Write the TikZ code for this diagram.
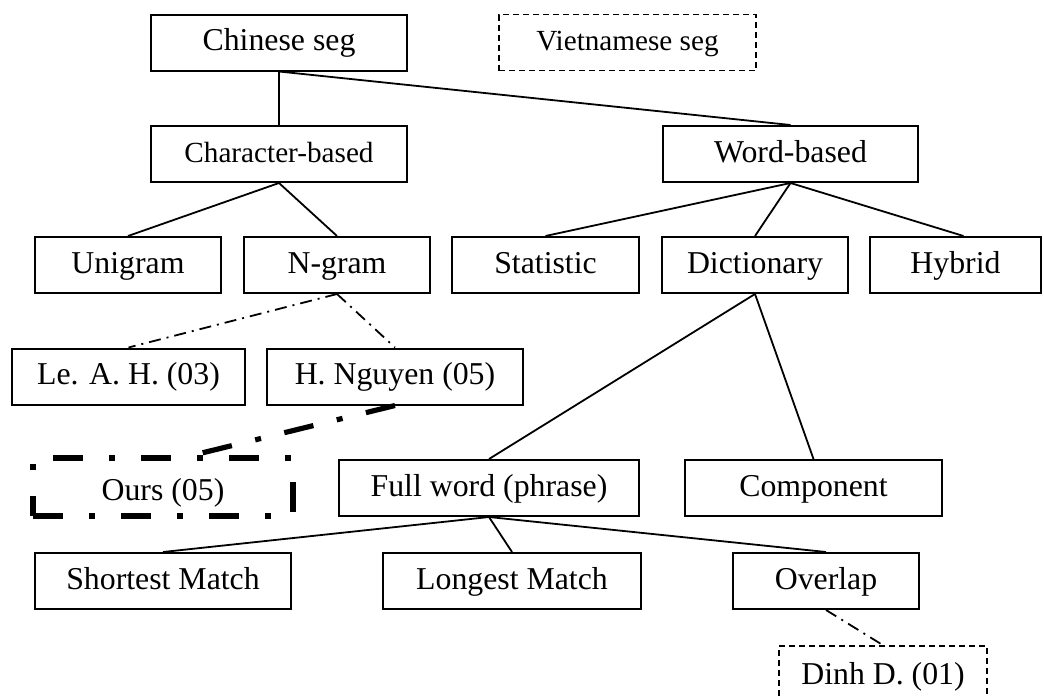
\documentclass[tikz,border=0pt]{standalone}
\usepackage{fontspec}
\setmainfont{Liberation Serif}
\usetikzlibrary{positioning}
\tikzset{
    method/.style={
        rectangle,
        draw,
        line width=1pt,
        inner sep=0pt,
        minimum height=28pt,
        text height=0.66em+1.5pt,
        text depth=0pt,
        text centered,
        font={\fontsize{15.9pt}{18}\selectfont}
    },
    smallmethod/.style={
        method,
        font={\fontsize{14.6pt}{17}\selectfont}
    },
    viet/.style={
        method,
        line width=0.8pt,
        dash pattern=on 3pt off 2pt
    },
    ours/.style={
        method,
        line width=2.6pt,
        dash pattern=on 15pt off 13pt on 3pt off 13pt
    },
}

\begin{document}
\begin{tikzpicture}[x=0.5pt,y=-0.5pt]
\tikzstyle{branch} = [draw, line width=0.9pt]
\tikzstyle{follow} = [draw, line width=0.9pt, dash pattern=on 6pt off 3pt on 1pt off 3pt]
\tikzstyle{extend} = [draw, line width=2.6pt, dash pattern=on 15pt off 12pt on 3pt off 12pt]
\clip (0,0) rectangle (1044,697);

% Roots
\node[method, minimum width=128pt] (chinese) at (279,42.5) {Chinese seg};
\node[viet, minimum width=128.5pt, font={\fontsize{14.6pt}{17}\selectfont}] (vietnamese) at (627.5,42.5) {Vietnamese seg};

% Approaches
\node[smallmethod, minimum width=128pt] (charbased) at (279,154) {Character-based};
\node[method, minimum width=127.5pt] (wordbased) at (790.5,154) {Word-based};

% Models
\node[method, minimum width=93pt] (unigram) at (128,265) {Unigram};
\node[method, minimum width=93pt] (ngram) at (337,265) {N-gram};
\node[method, minimum width=93.5pt] (statistic) at (545.5,265) {Statistic};
\node[method, minimum width=93pt] (dictionary) at (755,265) {Dictionary};
\node[method, minimum width=85.5pt] (hybrid) at (955.5,265) {Hybrid};

% Vietnamese works
\node[method, minimum width=116.5pt] (leah) at (128.5,376.5) {Le. A. H. (03)};
\node[method, minimum width=128pt] (hnguyen) at (395,376.5) {H. Nguyen (05)};
\node[ours, minimum width=130pt, minimum height=29pt] (ours) at (163,487) {\raisebox{-2.5pt}{Ours (05)}};

% Dictionary matching
\node[method, minimum width=150pt] (fullword) at (489,488) {Full word (phrase)};
\node[method, minimum width=128.5pt] (component) at (813.5,488) {Component};
\node[method, minimum width=128pt] (shortest) at (163,581) {Shortest Match};
\node[method, minimum width=129pt] (longest) at (512,581) {Longest Match};
\node[method, minimum width=93pt] (overlap) at (826,581) {Overlap};
\node[viet, minimum width=104pt, minimum height=30pt] (dinh) at (883,676) {Dinh D. (01)};

% Tree edges
\draw[branch] (chinese.south) -- (charbased.north);
\draw[branch] (chinese.south) -- (wordbased.north);
\draw[branch] (charbased.south) -- (unigram.north);
\draw[branch] (charbased.south) -- (ngram.north);
\draw[branch] (wordbased.south) -- (statistic.north);
\draw[branch] (wordbased.south) -- (dictionary.north);
\draw[branch] (wordbased.south) -- ([xshift=4pt]hybrid.north);
\draw[branch] (dictionary.south) -- (fullword.north);
\draw[branch] (dictionary.south) -- (component.north);
\draw[branch] (fullword.south) -- (shortest.north);
\draw[branch] (fullword.south) -- (longest.north);
\draw[branch] (fullword.south) -- (overlap.north);

% Related works (dash-dot)
\draw[follow] (ngram.south) -- (leah.north);
\draw[follow] (ngram.south) -- (hnguyen.north);
\draw[follow] (overlap.south) -- (dinh.north);
\draw[extend] (hnguyen.south) -- ([xshift=14.5pt]ours.north);
\end{tikzpicture}
\end{document}
